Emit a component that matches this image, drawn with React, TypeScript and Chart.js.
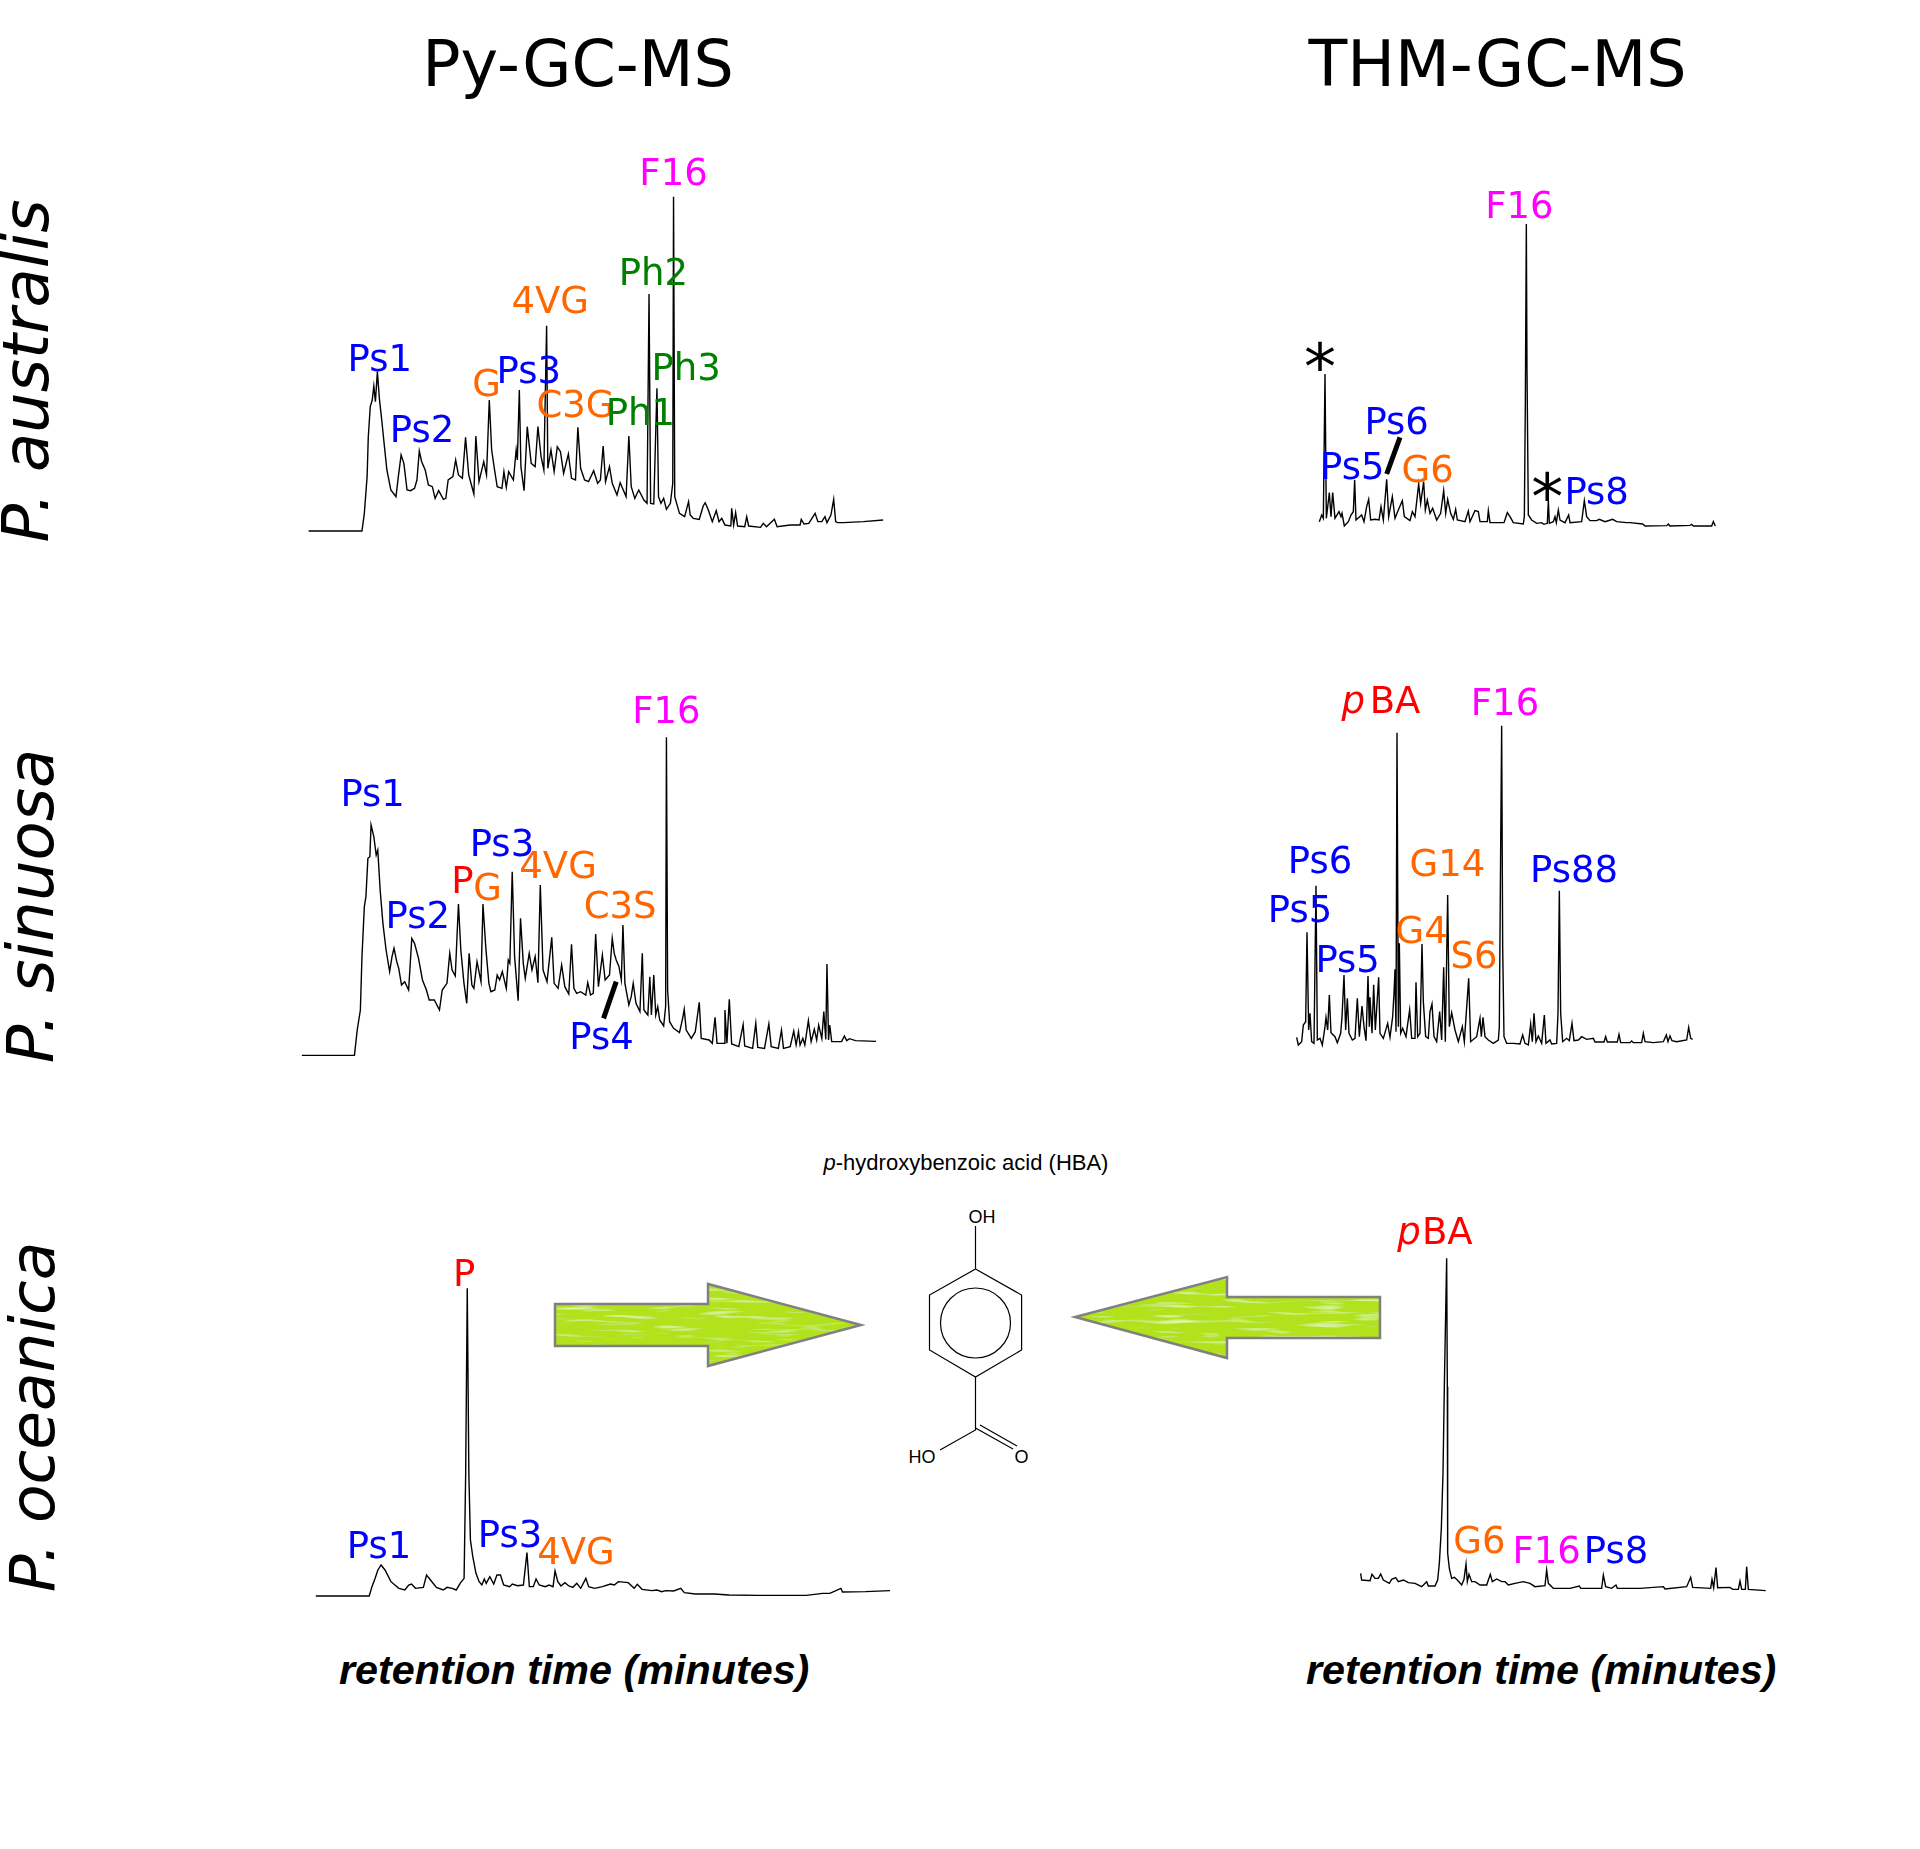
import React, { useEffect, useRef } from "react";
import { Chart, registerables } from "chart.js";

Chart.register(...registerables);

type Pair = [number, number];
type Label = [string, number, number, string, boolean?];

const BLUE = "#0000ff";
const ORANGE = "#ff6600";
const GREEN = "#008000";
const MAGENTA = "#ff00ff";
const RED = "#ff0000";
const BLACK = "#000000";

// Traces: [retention reading, signal reading] in arbitrary units
const pyAustralisTrace: Pair[] = [[47,2],[182,2],[188,55],[195,165],[198,285],[203,375],[208,395],[212,437],[216,390],[221,480],[226,400],[232,335],[238,265],[245,185],[255,125],[268,105],[274,165],[281,230],[288,205],[296,125],[305,123],[315,130],[321,155],[327,242],[333,210],[342,185],[350,140],[360,135],[367,100],[376,123],[388,97],[394,100],[400,155],[412,165],[419,215],[426,170],[436,160],[444,283],[452,170],[465,113],[470,287],[478,150],[490,210],[497,170],[504,395],[510,245],[518,180],[524,135],[536,130],[541,180],[547,133],[553,180],[565,155],[572,245],[575,215],[580,425],[584,195],[592,123],[600,315],[610,205],[620,195],[627,315],[635,225],[642,185],[649,618],[652,190],[660,245],[668,180],[676,255],[684,240],[692,175],[704,233],[712,160],[722,155],[728,313],[735,190],[745,155],[755,150],[768,183],[778,145],[785,155],[792,257],[798,150],[808,195],[815,145],[827,110],[835,147],[850,105],[857,287],[863,135],[872,100],[882,125],[895,95],[903,85],[908,713],[912,85],[920,83],[928,430],[932,105],[938,85],[945,100],[952,67],[962,85],[968,145],[970,1005],[973,105],[985,55],[998,45],[1008,90],[1012,50],[1020,40],[1035,37],[1045,77],[1050,87],[1058,65],[1068,30],[1078,63],[1085,30],[1092,40],[1100,20],[1115,17],[1117,70],[1122,20],[1127,57],[1132,17],[1150,15],[1155,45],[1160,17],[1190,13],[1197,25],[1205,15],[1225,37],[1232,15],[1265,20],[1290,20],[1293,37],[1300,23],[1312,25],[1328,55],[1335,30],[1345,30],[1353,45],[1358,27],[1368,50],[1375,97],[1380,30],[1385,27],[1400,27],[1450,30],[1500,35]];

const thmAustralisTrace: Pair[] = [[118,13],[125,33],[130,23],[135,456],[139,23],[148,100],[153,28],[158,100],[165,23],[177,43],[183,28],[186,38],[193,0],[205,13],[213,33],[220,43],[224,138],[228,18],[245,33],[252,13],[260,58],[266,80],[272,18],[285,20],[297,18],[303,58],[310,18],[320,140],[326,28],[337,88],[345,23],[355,48],[367,76],[373,28],[390,16],[397,43],[405,28],[416,126],[422,68],[431,133],[436,48],[442,78],[450,38],[458,53],[470,18],[482,38],[491,106],[497,38],[503,80],[512,38],[520,20],[527,50],[532,18],[555,13],[565,45],[570,13],[585,46],[595,43],[600,13],[622,13],[625,46],[630,10],[672,10],[682,40],[690,28],[700,10],[730,6],[733,28],[736,368],[739,906],[741,468],[745,33],[755,18],[770,8],[785,10],[792,5],[802,8],[805,78],[808,8],[820,13],[825,28],[829,10],[835,48],[840,18],[855,10],[866,33],[870,10],[905,13],[913,76],[920,28],[930,16],[950,16],[958,20],[975,13],[998,20],[1010,13],[1040,10],[1050,10],[1088,6],[1095,0],[1160,1],[1165,6],[1170,0],[1230,2],[1235,5],[1240,0],[1295,0],[1300,13],[1306,0]];

const pySinuosaTrace: Pair[] = [[30,0],[163,0],[170,76],[178,136],[182,296],[188,446],[192,476],[197,591],[202,596],[205,691],[212,656],[218,601],[222,616],[228,496],[235,396],[243,316],[252,251],[258,296],[263,321],[270,281],[275,261],[282,211],[290,221],[300,196],[308,351],[315,336],[325,291],[335,226],[345,196],[352,166],[365,166],[378,136],[385,196],[397,216],[404,306],[410,256],[418,238],[426,454],[432,316],[440,216],[447,156],[453,306],[460,211],[465,201],[473,281],[483,221],[488,454],[495,326],[503,216],[508,191],[518,196],[524,241],[530,226],[537,251],[547,201],[552,286],[556,276],[562,551],[568,296],[577,164],[583,411],[590,276],[595,231],[605,306],[612,256],[620,296],[627,218],[633,511],[640,256],[650,221],[662,354],[668,216],[678,201],[687,271],[695,206],[705,184],[712,333],[718,201],[725,186],[735,191],[748,181],[753,218],[760,181],[767,186],[773,364],[780,206],[790,301],[797,226],[808,241],[815,351],[820,306],[825,286],[832,266],[838,226],[842,391],[847,216],[857,151],[863,176],[868,216],[875,156],[885,131],[891,306],[895,136],[905,121],[910,236],[914,121],[920,241],[925,121],[930,146],[935,106],[945,88],[950,146],[952,954],[955,196],[960,101],[970,81],[985,68],[993,111],[997,138],[1002,76],[1015,51],[1025,71],[1035,159],[1040,51],[1060,46],[1068,36],[1075,114],[1080,36],[1098,36],[1100,136],[1105,36],[1111,168],[1117,34],[1135,26],[1146,92],[1150,28],[1170,21],[1178,96],[1183,24],[1200,21],[1211,94],[1217,26],[1235,21],[1243,76],[1248,21],[1265,26],[1274,73],[1280,31],[1286,71],[1290,31],[1297,51],[1302,31],[1311,104],[1318,41],[1326,78],[1332,46],[1337,91],[1345,51],[1350,131],[1355,48],[1358,274],[1362,46],[1365,91],[1370,41],[1395,41],[1402,58],[1408,44],[1415,50],[1430,44],[1482,42]];

const thmSinuosaTrace: Pair[] = [[50,24],[55,1],[65,11],[70,61],[77,71],[81,339],[86,46],[90,96],[95,11],[102,6],[108,479],[112,16],[120,21],[127,1],[135,56],[138,84],[143,46],[148,151],[153,38],[165,26],[172,8],[182,36],[186,84],[192,211],[197,46],[202,141],[207,36],[217,16],[225,21],[232,141],[238,26],[246,118],[252,56],[258,14],[264,208],[268,56],[270,144],[276,36],[281,182],[286,46],[296,204],[300,36],[310,21],[323,66],[330,24],[338,86],[342,156],[345,228],[348,41],[351,938],[355,56],[358,306],[362,36],[368,51],[378,26],[382,56],[389,106],[395,21],[405,21],[408,189],[413,26],[420,36],[426,304],[430,131],[437,26],[445,21],[450,101],[456,124],[462,26],[470,11],[479,101],[485,16],[491,234],[496,11],[503,451],[508,56],[515,98],[525,46],[535,11],[547,56],[553,11],[566,201],[572,11],[590,26],[600,81],[604,26],[609,84],[615,26],[625,16],[640,6],[655,16],[658,56],[662,596],[665,959],[668,296],[672,26],[680,6],[700,6],[720,4],[728,31],[735,6],[745,1],[752,64],[757,11],[762,96],[768,11],[775,28],[785,6],[793,91],[798,6],[810,16],[815,4],[830,6],[834,96],[838,464],[842,96],[848,11],[860,21],[868,14],[876,66],[882,14],[895,16],[905,26],[920,18],[940,21],[945,10],[972,10],[977,26],[982,10],[1012,10],[1017,33],[1022,8],[1050,8],[1055,13],[1060,8],[1085,8],[1090,36],[1095,11],[1120,8],[1150,11],[1159,31],[1164,11],[1170,28],[1176,14],[1190,11],[1220,16],[1226,54],[1232,21],[1238,18]];

const pyOceanicaTrace: Pair[] = [[40,0],[175,0],[182,28],[190,53],[197,78],[205,93],[215,78],[230,43],[250,23],[265,18],[275,33],[282,36],[292,23],[312,26],[320,63],[330,48],[345,26],[362,18],[372,26],[385,23],[395,18],[405,38],[415,53],[419,368],[423,923],[427,368],[431,168],[437,118],[445,68],[453,43],[460,33],[466,51],[471,38],[480,58],[490,36],[498,63],[507,63],[515,33],[530,28],[537,36],[550,31],[565,33],[574,130],[580,28],[590,28],[597,51],[605,33],[620,28],[630,33],[640,28],[645,75],[652,43],[660,30],[670,40],[680,30],[690,26],[700,38],[710,23],[723,53],[730,28],[745,23],[765,28],[785,36],[795,33],[805,43],[830,40],[845,23],[853,35],[865,20],[890,16],[903,18],[915,13],[925,16],[945,15],[963,23],[972,10],[1000,6],[1048,6],[1085,3],[1160,2],[1280,2],[1322,8],[1340,8],[1368,23],[1372,12],[1430,13],[1492,16]];

const thmOceanicaTrace: Pair[] = [[62,52],[65,32],[90,30],[96,49],[105,37],[115,37],[122,50],[130,32],[148,22],[155,34],[167,39],[175,27],[190,32],[205,24],[225,22],[245,12],[260,27],[265,14],[285,14],[293,32],[298,82],[304,187],[309,352],[313,612],[320,997],[322,612],[323,112],[328,67],[335,37],[343,40],[352,32],[365,17],[372,34],[378,80],[382,27],[387,49],[395,27],[405,27],[420,17],[440,17],[451,49],[457,27],[470,35],[485,27],[495,27],[505,17],[525,22],[550,27],[570,22],[585,12],[615,15],[620,62],[625,22],[640,7],[690,7],[718,14],[722,7],[785,7],[790,47],[797,12],[815,7],[828,17],[832,7],[900,7],[970,12],[975,5],[1040,12],[1052,40],[1058,10],[1112,7],[1116,34],[1121,9],[1128,69],[1133,9],[1170,10],[1178,4],[1195,4],[1200,29],[1205,4],[1216,4],[1220,72],[1225,4],[1277,0]];

// Peak names: [text, retention, signal, colour, italic]
const pyAustralisLabels: Label[] = [["F16",970,1040,MAGENTA],["Ph2",919,740,GREEN],["4VG",658,655,ORANGE],["Ph3",1002,455,GREEN],["Ps1",227,482,BLUE],["Ps3",604,447,BLUE],["G",497,407,ORANGE],["C3G",722,343,ORANGE],["Ph1",886,320,GREEN],["Ps2",334,268,BLUE]];
const thmAustralisLabels: Label[] = [["F16",718,925,MAGENTA],["Ps6",350,276,BLUE],["Ps5",217,140,BLUE],["G6",443,133,ORANGE],["Ps8",950,66,BLUE]];
const thmAustralisStars: Label[] = [["*",120,410,BLACK],["*",802,20,BLACK]];
const pySinuosaLabels: Label[] = [["F16",952,998,MAGENTA],["Ps1",209,749,BLUE],["Ps3",536,599,BLUE],["4VG",678,531,ORANGE],["P",436,488,RED],["G",500,466,ORANGE],["Ps2",323,383,BLUE],["C3S",835,411,ORANGE],["Ps4",788,18,BLUE]];
const thmSinuosaLabels: Label[] = [["p",220,996,RED,true],["BA",345,996,RED],["F16",675,991,MAGENTA],["Ps6",120,518,BLUE],["Ps5",60,369,BLUE],["G14",502,509,ORANGE],["Ps88",882,491,BLUE],["G4",425,308,ORANGE],["Ps5",203,219,BLUE],["S6",582,233,ORANGE]];
const pyOceanicaLabels: Label[] = [["P",415,930,RED],["Ps1",200,113,BLUE],["Ps3",531,148,BLUE],["4VG",698,96,ORANGE]];
const thmOceanicaLabels: Label[] = [["p",207,1040,RED,true],["BA",322,1040,RED],["G6",418,112,ORANGE],["F16",620,82,MAGENTA],["Ps8",828,82,BLUE]];

// Leader ticks joining a name to its peak
const thmAustralisLeader: Pair[] = [[360,266],[320,156]];
const pySinuosaLeader: Pair[] = [[825,221],[793,111]];

const columnTitles = ["Py-GC-MS", "THM-GC-MS"];
const speciesNames = ["P. australis", "P. sinuosa", "P. oceanica"];
const xAxisTitle = "retention time (minutes)";

interface Panel {
  left: number; top: number; width: number; height: number;
  xMin: number; xMax: number; yMin: number; yMax: number;
  trace: Pair[]; labels: Label[]; stars?: Label[]; leader?: Pair[];
}

const panels: Panel[] = [
  { left: 290, top: 150, width: 620, height: 400, xMin: 0, xMax: 1568, yMin: -55, yMax: 1145, trace: pyAustralisTrace, labels: pyAustralisLabels },
  { left: 1280, top: 170, width: 460, height: 380, xMin: 0, xMax: 1380, yMin: -72, yMax: 1068, trace: thmAustralisTrace, labels: thmAustralisLabels, stars: thmAustralisStars, leader: thmAustralisLeader },
  { left: 290, top: 690, width: 620, height: 400, xMin: 0, xMax: 1568, yMin: -104, yMax: 1096, trace: pySinuosaTrace, labels: pySinuosaLabels, leader: pySinuosaLeader },
  { left: 1240, top: 680, width: 480, height: 400, xMin: -120, xMax: 1320, yMin: -104, yMax: 1096, trace: thmSinuosaTrace, labels: thmSinuosaLabels },
  { left: 300, top: 1240, width: 620, height: 380, xMin: 0, xMax: 1568, yMin: -72, yMax: 1068, trace: pyOceanicaTrace, labels: pyOceanicaLabels },
  { left: 1340, top: 1200, width: 460, height: 420, xMin: 0, xMax: 1380, yMin: -88, yMax: 1172, trace: thmOceanicaTrace, labels: thmOceanicaLabels },
];

const peakNames = {
  id: "peakNames",
  afterDatasetsDraw(chart: any, _args: any, opts: any) {
    const { ctx, scales } = chart;
    ctx.save();
    ctx.textAlign = "center";
    ctx.textBaseline = "alphabetic";
    for (const [text, x, y, color, italic] of opts.labels as Label[]) {
      ctx.font = `${italic ? "italic " : ""}37px "DejaVu Sans"`;
      ctx.fillStyle = color;
      ctx.fillText(text, scales.x.getPixelForValue(x), scales.y.getPixelForValue(y));
    }
    for (const [text, x, y, color] of (opts.stars || []) as Label[]) {
      ctx.font = `64px "DejaVu Sans"`;
      ctx.fillStyle = color;
      ctx.fillText(text, scales.x.getPixelForValue(x), scales.y.getPixelForValue(y));
    }
    ctx.restore();
  },
};

function PanelChart({ p }: { p: Panel }) {
  const ref = useRef<HTMLCanvasElement>(null);
  useEffect(() => {
    const datasets: any[] = [{
      data: p.trace.map(([x, y]) => ({ x, y })),
      borderColor: "#000000", borderWidth: 1.4, pointRadius: 0, tension: 0, fill: false,
    }];
    if (p.leader) {
      datasets.push({
        data: p.leader.map(([x, y]) => ({ x, y })),
        borderColor: "#000000", borderWidth: 5, pointRadius: 0, tension: 0, fill: false,
      });
    }
    const chart = new Chart(ref.current!, {
      type: "line",
      data: { datasets },
      plugins: [peakNames],
      options: {
        responsive: false,
        animation: false,
        parsing: false,
        normalized: true,
        layout: { padding: 0 },
        scales: {
          x: { type: "linear", display: false, min: p.xMin, max: p.xMax },
          y: { type: "linear", display: false, min: p.yMin, max: p.yMax },
        },
        plugins: {
          legend: { display: false },
          tooltip: { enabled: false },
          peakNames: { labels: p.labels, stars: p.stars },
        } as any,
      },
    } as any);
    return () => chart.destroy();
  }, [p]);
  return (
    <canvas ref={ref} width={p.width} height={p.height}
      style={{ position: "absolute", left: p.left, top: p.top, width: p.width, height: p.height, display: "block" }} />
  );
}

const rightArrow = "M555 1304 H708 V1284 L861 1325 L708 1366 V1346 H555 Z";
const leftArrow = "M1380 1297 H1227 V1277 L1075 1317 L1227 1358 V1338 H1380 Z";

function Decorations() {
  const dv = '"DejaVu Sans"';
  const lib = '"Liberation Sans"';
  return (
    <svg width={1920} height={1849} style={{ position: "absolute", left: 0, top: 0 }}>
      <defs>
        <filter id="streak" x="0" y="0" width="100%" height="100%">
          <feTurbulence type="fractalNoise" baseFrequency="0.02 0.25" numOctaves={2} seed={3} result="n" />
          <feColorMatrix in="n" type="matrix" values="0 0 0 0 0.85  0 0 0 0 1  0 0 0 0 0.5  0 0 0 2.5 -1.4" result="s" />
          <feComposite in="s" in2="SourceGraphic" operator="in" result="c" />
          <feMerge><feMergeNode in="SourceGraphic" /><feMergeNode in="c" /></feMerge>
        </filter>
      </defs>
      <text x={578} y={86} textAnchor="middle" fontFamily={dv} fontSize={63.5}>{columnTitles[0]}</text>
      <text x={1497.5} y={86} textAnchor="middle" fontFamily={dv} fontSize={63.5}>{columnTitles[1]}</text>
      <text transform="translate(48 371) rotate(-90)" textAnchor="middle" fontFamily={dv} fontStyle="italic" fontSize={64}>{speciesNames[0]}</text>
      <text transform="translate(53 906) rotate(-90)" textAnchor="middle" fontFamily={dv} fontStyle="italic" fontSize={64}>{speciesNames[1]}</text>
      <text transform="translate(54 1417) rotate(-90)" textAnchor="middle" fontFamily={dv} fontStyle="italic" fontSize={63}>{speciesNames[2]}</text>
      <text x={339} y={1684} fontFamily={lib} fontWeight="bold" fontStyle="italic" fontSize={41.3}>{xAxisTitle}</text>
      <text x={1306} y={1684} fontFamily={lib} fontWeight="bold" fontStyle="italic" fontSize={41.3}>{xAxisTitle}</text>

      <path d={rightArrow} fill="#b2e21f" filter="url(#streak)" />
      <path d={rightArrow} fill="none" stroke="#808080" strokeWidth={2.5} />
      <path d={leftArrow} fill="#b2e21f" filter="url(#streak)" />
      <path d={leftArrow} fill="none" stroke="#808080" strokeWidth={2.5} />

      <text x={966} y={1170} textAnchor="middle" fontFamily={lib} fontSize={22}>
        <tspan fontStyle="italic">p</tspan>-hydroxybenzoic acid (HBA)
      </text>
      <g stroke="#000" strokeWidth={1.2} fill="none">
        <path d="M975.5 1226 V1269 L1021.6 1295 V1350 L975.5 1377 L929.5 1350 V1295 L975.5 1269" />
        <circle cx={975.5} cy={1323} r={35} />
        <path d="M975.5 1377 V1430 L940 1450 M975.5 1428 L1013 1449 M980 1425 L1017 1446" />
      </g>
      <g fontFamily={lib} fontSize={18} textAnchor="middle">
        <text x={982} y={1223}>OH</text>
        <text x={922} y={1463}>HO</text>
        <text x={1021.6} y={1463}>O</text>
      </g>
    </svg>
  );
}

export default function App() {
  return (
    <div style={{ position: "absolute", left: 0, top: 0, width: 1920, height: 1849, background: "#fff", overflow: "hidden" }}>
      <Decorations />
      {panels.map((p, i) => <PanelChart key={i} p={p} />)}
    </div>
  );
}
